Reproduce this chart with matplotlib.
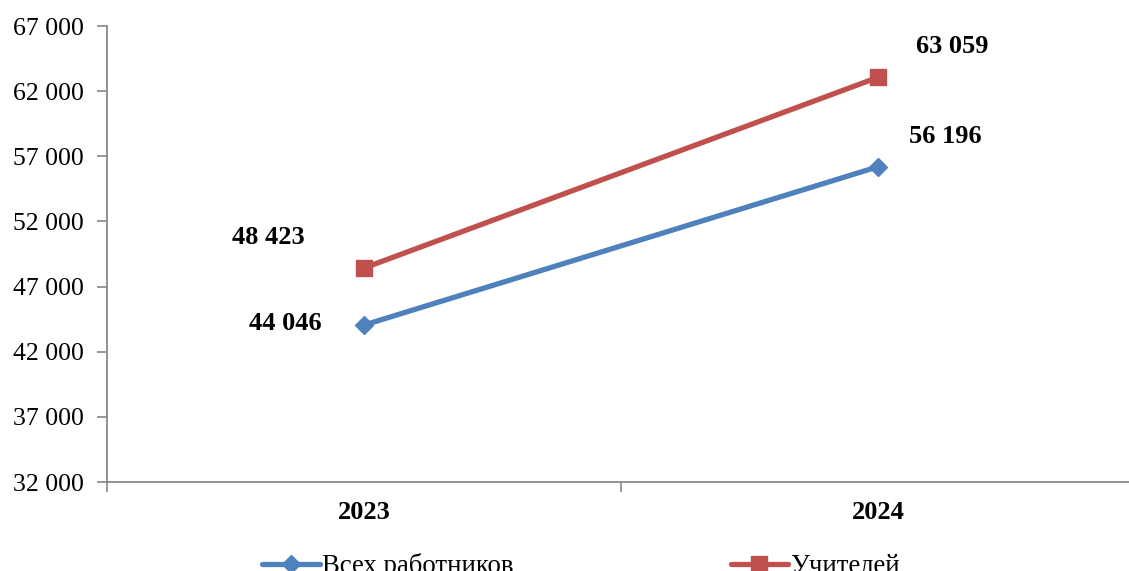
import matplotlib
matplotlib.use("Agg")
import matplotlib.pyplot as plt
from matplotlib.ticker import FuncFormatter

years = ["2023", "2024"]
all_workers = [44046, 56196]
teachers = [48423, 63059]
series_names = ["Всех работников", "Учителей"]
y_ticks = [32000, 37000, 42000, 47000, 52000, 57000, 62000, 67000]

plt.rcParams['font.family'] = ['Liberation Serif', 'DejaVu Serif']

W, H = 1129, 571
fig = plt.figure(figsize=(W / 100, H / 100), dpi=100)
ax = fig.add_axes([107 / W, 1 - 482 / H, (1135 - 107) / W, (482 - 26) / H])

blue = '#4F81BD'
red = '#C0504D'
x = list(range(len(years)))
l1, = ax.plot(x, all_workers, color=blue, lw=3.8, marker='D', markersize=9,
              label=series_names[0], solid_capstyle='round')
l2, = ax.plot(x, teachers, color=red, lw=3.8, marker='s', markersize=12,
              label=series_names[1], solid_capstyle='round')

def fmt(v):
    return f"{int(v):,}".replace(",", " ")

offsets_blue = [(-79, 2), (67, 30)]
offsets_red = [(-96, 31), (74, 31)]
for i, v in enumerate(all_workers):
    ax.annotate(fmt(v), (x[i], v), xytext=offsets_blue[i], textcoords='offset pixels',
                ha='center', va='center', fontsize=19, fontweight='bold')
for i, v in enumerate(teachers):
    ax.annotate(fmt(v), (x[i], v), xytext=offsets_red[i], textcoords='offset pixels',
                ha='center', va='center', fontsize=19, fontweight='bold')

ax.set_xlim(-0.5, 1.5)
ax.set_ylim(32000, 67000)
ax.set_yticks(y_ticks)
ax.yaxis.set_major_formatter(FuncFormatter(lambda v, p: fmt(v)))
ax.set_xticks([-0.5, 0.5, 1.5])
ax.set_xticklabels([])
ax.set_xticks(x, minor=True)
ax.set_xticklabels(years, minor=True, fontsize=19, fontweight='bold')
ax.tick_params(axis='x', which='minor', length=0, pad=14)
ax.tick_params(axis='x', which='major', length=7, color='#888888', width=1.2)
ax.tick_params(axis='y', length=7, color='#888888', width=1.2, labelsize=18.5, pad=10)

for s in ['top', 'right']:
    ax.spines[s].set_visible(False)
for s in ['left', 'bottom']:
    ax.spines[s].set_color('#888888')
    ax.spines[s].set_linewidth(1.3)

fig.legend(handles=[l1, l2], loc='center', bbox_to_anchor=(581 / W, 1 - 566 / H),
           ncol=2, frameon=False, fontsize=19.3, handlelength=2.15, handletextpad=0.07,
           columnspacing=8.1, borderpad=0, borderaxespad=0)

fig.savefig("out.png", dpi=100)
